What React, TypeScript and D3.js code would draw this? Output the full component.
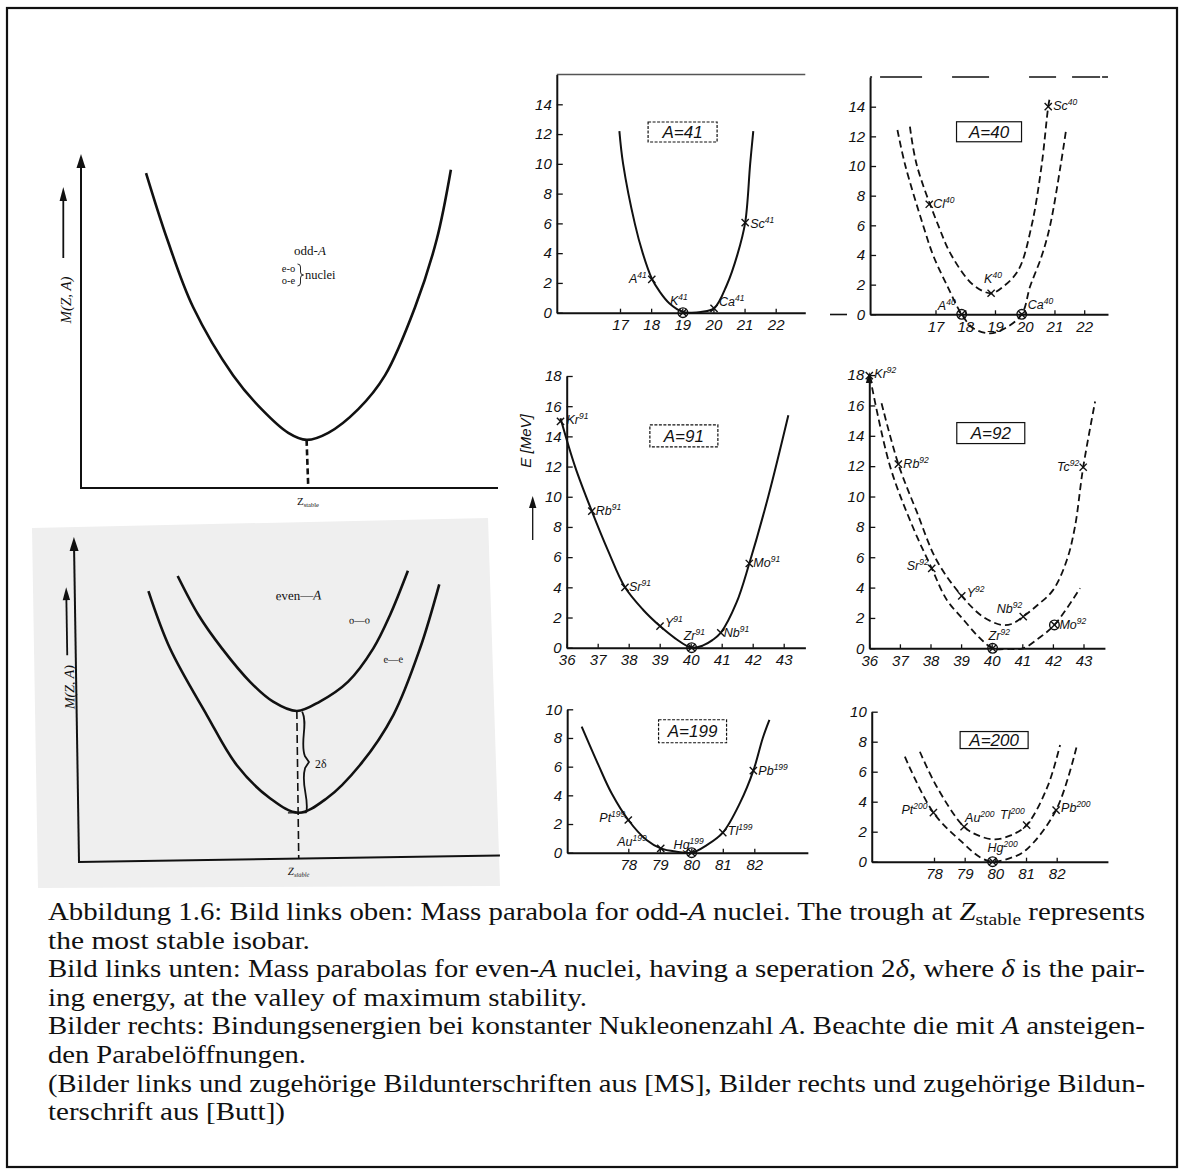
import { useEffect, useRef } from "react";
import * as d3 from "d3";

type Pt = [number, number];
type Nuclide = { el: string; a: number; z: number; e: number; stable?: boolean };

// ---------- left, top: odd-A mass parabola (schematic units 0..10) ----------
const oddACurve: Pt[] = [
  [1.56, 9.43], [2.07, 7.44], [2.69, 5.41], [3.65, 3.37], [4.33, 2.36], [4.97, 1.65],
  [5.41, 1.44], [5.93, 1.65], [6.65, 2.36], [7.29, 3.37], [8.01, 5.41], [8.53, 7.44], [8.87, 9.53],
];
const oddAStable: Pt[] = [[5.41, 1.44], [5.45, 0]];

// ---------- left, bottom: even-A parabolas ----------
const evenOOCurve: Pt[] = [
  [2.45, 8.75], [2.93, 7.54], [3.47, 6.51], [4.13, 5.46], [4.67, 4.84], [5.23, 4.54],
  [5.78, 4.82], [6.46, 5.42], [7.07, 6.43], [7.48, 7.45], [7.92, 8.8],
];
const evenEECurve: Pt[] = [
  [1.75, 8.3], [2.24, 6.53], [3.09, 4.46], [3.78, 2.91], [4.56, 1.87], [5.23, 1.41],
  [5.91, 1.84], [6.71, 2.85], [7.52, 4.37], [8.18, 6.41], [8.66, 8.37],
];
const evenStable: Pt[] = [[5.23, 4.54], [5.22, 0]];
const pairingGap: Pt[] = [[5.38, 4.52], [5.38, 1.41]];
const eeMinTick: Pt[] = [[4.98, 1.41], [5.42, 1.41]];

// ---------- right panels: E [MeV] vs Z ----------
const a41Curve: Pt[] = [
  [16.98, 12.2], [17.1, 10.0], [17.48, 5.95], [17.73, 4.0], [18.02, 2.3], [18.28, 1.4],
  [18.59, 0.62], [19.02, 0.05], [19.3, 0], [19.6, 0.05], [20.02, 0.29], [20.43, 1.86],
  [20.77, 3.9], [21.02, 6.05], [21.18, 10.0], [21.28, 12.2],
];
const a41Nuclides: Nuclide[] = [
  { el: "A", a: 41, z: 18.02, e: 2.24 },
  { el: "K", a: 41, z: 19.02, e: 0, stable: true },
  { el: "Ca", a: 41, z: 20.02, e: 0.29 },
  { el: "Sc", a: 41, z: 21.02, e: 6.05 },
];

const a40OddOdd: Pt[] = [
  [16.14, 12.65], [16.37, 10.07], [17.1, 5.96], [17.55, 3.93], [18.27, 1.98], [18.87, 1.42],
  [19.28, 1.87], [19.79, 2.99], [20.23, 5.96], [20.57, 10.07], [20.79, 14.0], [20.85, 14.67],
];
const a40EvenEven: Pt[] = [
  [15.72, 12.43], [15.98, 10.07], [16.59, 5.96], [16.93, 3.93], [17.38, 1.98], [17.88, 0],
  [18.27, -0.94], [18.83, -1.28], [19.34, -0.94], [19.9, 0], [20.18, 1.87], [20.57, 3.93],
  [20.85, 5.96], [21.21, 10.07], [21.39, 12.43],
];
const a40Nuclides: Nuclide[] = [
  { el: "Cl", a: 40, z: 16.79, e: 7.42 },
  { el: "K", a: 40, z: 18.87, e: 1.42 },
  { el: "Sc", a: 40, z: 20.79, e: 14.0 },
  { el: "A", a: 40, z: 17.88, e: 0, stable: true },
  { el: "Ca", a: 40, z: 19.9, e: 0, stable: true },
];

const a91Curve: Pt[] = [
  [35.8, 15.2], [36.27, 12.0], [36.81, 9.05], [37.34, 6.4], [37.88, 4.0], [38.47, 2.5],
  [39.01, 1.43], [39.5, 0.62], [40.03, 0], [40.4, 0.15], [40.7, 0.5], [40.97, 0.99],
  [41.48, 3.0], [41.89, 5.58], [42.5, 10.0], [43.15, 15.4],
];
const a91Nuclides: Nuclide[] = [
  { el: "Kr", a: 91, z: 35.8, e: 15.0 },
  { el: "Rb", a: 91, z: 36.81, e: 9.05 },
  { el: "Sr", a: 91, z: 37.88, e: 4.0 },
  { el: "Y", a: 91, z: 39.01, e: 1.43 },
  { el: "Zr", a: 91, z: 40.03, e: 0, stable: true },
  { el: "Nb", a: 91, z: 40.97, e: 0.99 },
  { el: "Mo", a: 91, z: 41.89, e: 5.58 },
];

const a92OddOdd: Pt[] = [
  [36.4, 16.15], [36.95, 12.13], [37.55, 9.0], [38.2, 5.8], [39.02, 3.45], [39.7, 2.1],
  [40.3, 1.55], [40.65, 1.6], [41.03, 2.09], [41.5, 2.85], [42.01, 3.85], [42.45, 5.78],
  [42.72, 8.0], [42.99, 11.93], [43.38, 16.26],
];
const a92EvenEven: Pt[] = [
  [36.02, 17.9], [36.68, 11.98], [37.44, 7.91], [38.04, 5.27], [38.53, 3.2], [39.07, 1.9],
  [39.5, 0.9], [39.73, 0.45], [40.03, 0], [40.6, -0.04], [41.03, 0], [41.58, 0.73],
  [42.05, 1.54], [42.89, 3.96],
];
const a92Nuclides: Nuclide[] = [
  { el: "Kr", a: 92, z: 36.0, e: 17.96 },
  { el: "Rb", a: 92, z: 36.95, e: 12.13 },
  { el: "Sr", a: 92, z: 38.04, e: 5.27 },
  { el: "Y", a: 92, z: 39.02, e: 3.45 },
  { el: "Zr", a: 92, z: 40.03, e: 0, stable: true },
  { el: "Nb", a: 92, z: 41.03, e: 2.09 },
  { el: "Mo", a: 92, z: 42.05, e: 1.54, stable: true },
  { el: "Tc", a: 92, z: 42.99, e: 11.93 },
];

const a199Curve: Pt[] = [
  [76.52, 8.79], [77.05, 6.12], [77.47, 4.14], [78.0, 2.28], [78.58, 0.88], [79.03, 0.3],
  [79.54, 0.07], [80.01, 0], [80.49, 0.53], [81.0, 1.4], [81.55, 3.49], [81.97, 5.72],
  [82.27, 8.0], [82.48, 9.26],
];
const a199Nuclides: Nuclide[] = [
  { el: "Pt", a: 199, z: 78.0, e: 2.28 },
  { el: "Au", a: 199, z: 79.03, e: 0.3 },
  { el: "Hg", a: 199, z: 80.01, e: 0, stable: true },
  { el: "Tl", a: 199, z: 81.0, e: 1.4 },
  { el: "Pb", a: 199, z: 81.97, e: 5.72 },
];

const a200OddOdd: Pt[] = [
  [77.54, 7.33], [78.09, 5.0], [78.98, 2.33], [79.5, 1.7], [79.99, 1.49], [80.5, 1.75],
  [81.02, 2.44], [81.7, 5.0], [82.11, 7.78],
];
const a200EvenEven: Pt[] = [
  [77.05, 7.0], [77.98, 3.27], [78.96, 1.22], [79.5, 0.3], [79.91, 0], [80.5, 0.25],
  [81.0, 0.78], [81.98, 3.44], [82.65, 7.67],
];
const a200Nuclides: Nuclide[] = [
  { el: "Pt", a: 200, z: 77.98, e: 3.27 },
  { el: "Au", a: 200, z: 78.98, e: 2.33 },
  { el: "Hg", a: 200, z: 79.91, e: 0, stable: true },
  { el: "Tl", a: 200, z: 81.02, e: 2.44 },
  { el: "Pb", a: 200, z: 81.98, e: 3.44 },
];

const eTicks14 = [0, 2, 4, 6, 8, 10, 12, 14];
const eTicks18 = [0, 2, 4, 6, 8, 10, 12, 14, 16, 18];
const eTicks10 = [0, 2, 4, 6, 8, 10];
const zTicks40 = [17, 18, 19, 20, 21, 22];
const zTicks90 = [36, 37, 38, 39, 40, 41, 42, 43];
const zTicks200 = [78, 79, 80, 81, 82];

// label placement next to each marker: [dx, dy, anchor]
const labelPlace: Record<string, [number, number, string]> = {
  A41: [-5, 4, "end"], K41: [-13, -8, "start"], Ca41: [5, -2, "start"], Sc41: [5, 5, "start"],
  Cl40: [4, 4, "start"], K40: [-7, -10, "start"], Sc40: [5, 3, "start"], A40: [-6, -4, "end"], Ca40: [6, -5, "start"],
  Kr91: [6, 3, "start"], Rb91: [4, 4, "start"], Sr91: [4, 4, "start"], Y91: [5, 1, "start"],
  Zr91: [-8, -8, "start"], Nb91: [3, 4, "start"], Mo91: [4, 4, "start"],
  Kr92: [5, 2, "start"], Rb92: [5, 4, "start"], Sr92: [-3, 2, "end"], Y92: [5, 1, "start"],
  Zr92: [-4, -8, "start"], Nb92: [-1, -4, "end"], Mo92: [5, 4, "start"], Tc92: [-4, 4, "end"],
  Pt199: [-3, 2, "end"], Au199: [-14, -2, "end"], Hg199: [-18, -4, "start"], Tl199: [5, 2, "start"], Pb199: [5, 4, "start"],
  Pt200: [-6, 1, "end"], Au200: [1, -5, "start"], Hg200: [-5, -10, "start"], Tl200: [-2, -6, "end"], Pb200: [5, 2, "start"],
};

type Seg = { t: string; i?: boolean; sub?: boolean };
const captionLines: Seg[][] = [
  [{ t: "Abbildung 1.6: Bild links oben: Mass parabola for odd-" }, { t: "A", i: true }, { t: " nuclei. The trough at " }, { t: "Z", i: true }, { t: "stable", sub: true }, { t: " represents" }],
  [{ t: "the most stable isobar." }],
  [{ t: "Bild links unten: Mass parabolas for even-" }, { t: "A", i: true }, { t: " nuclei, having a seperation 2" }, { t: "δ", i: true }, { t: ", where " }, { t: "δ", i: true }, { t: " is the pair-" }],
  [{ t: "ing energy, at the valley of maximum stability." }],
  [{ t: "Bilder rechts: Bindungsenergien bei konstanter Nukleonenzahl " }, { t: "A", i: true }, { t: ". Beachte die mit " }, { t: "A", i: true }, { t: " ansteigen-" }],
  [{ t: "den Parabelöffnungen." }],
  [{ t: "(Bilder links und zugehörige Bildunterschriften aus [MS], Bilder rechts und zugehörige Bildun-" }],
  [{ t: "terschrift aus [Butt])" }],
];
const captionEnds = [1145, 310, 1145, 587, 1145, 306, 1145, 285];

const SANS = "'Liberation Sans', Arial, sans-serif";
const SERIF = "'Liberation Serif', 'Times New Roman', serif";
const INK = "#111";

type Panel = {
  title: string;
  xRef: [number, number]; xPix: [number, number]; xExt: [number, number];
  yRef: [number, number]; yPix: [number, number]; yExt: [number, number];
  xTicks: number[]; yTicks: number[];
  curves: { pts: Pt[]; dashed: boolean }[];
  nuclides: Nuclide[];
  box: { cx: number; cy: number; w: number; h: number; dashed: boolean };
  top?: "solid" | "dashed";
  arrow?: boolean;
  yLabel?: boolean;
};

const panels: Panel[] = [
  {
    title: "A=41", xRef: [17, 22], xPix: [620, 775.7], xExt: [14.97, 22.95],
    yRef: [0, 14], yPix: [312.7, 104.3], yExt: [0, 16], xTicks: zTicks40, yTicks: eTicks14,
    curves: [{ pts: a41Curve, dashed: false }], nuclides: a41Nuclides,
    box: { cx: 19.01, cy: 12.14, w: 69, h: 20, dashed: true }, top: "solid",
  },
  {
    title: "A=40", xRef: [17, 22], xPix: [935.5, 1084.2], xExt: [14.8, 22.8],
    yRef: [0, 14], yPix: [314.3, 106.7], yExt: [0, 16], xTicks: zTicks40, yTicks: eTicks14,
    curves: [{ pts: a40OddOdd, dashed: true }, { pts: a40EvenEven, dashed: true }], nuclides: a40Nuclides,
    box: { cx: 18.8, cy: 12.31, w: 65, h: 20, dashed: false }, top: "dashed",
  },
  {
    title: "A=91", xRef: [36, 43], xPix: [566.7, 783.7], xExt: [36, 43.7],
    yRef: [0, 18], yPix: [647.7, 376], yExt: [0, 18], xTicks: zTicks90, yTicks: eTicks18,
    curves: [{ pts: a91Curve, dashed: false }], nuclides: a91Nuclides,
    box: { cx: 39.78, cy: 14.03, w: 68, h: 22, dashed: true }, yLabel: true,
  },
  {
    title: "A=92", xRef: [36, 43], xPix: [869.3, 1083.5], xExt: [36, 43.7],
    yRef: [0, 18], yPix: [648.3, 375.1], yExt: [0, 18], xTicks: zTicks90, yTicks: eTicks18,
    curves: [{ pts: a92OddOdd, dashed: true }, { pts: a92EvenEven, dashed: true }], nuclides: a92Nuclides,
    box: { cx: 39.97, cy: 14.18, w: 68, h: 21, dashed: false }, arrow: true,
  },
  {
    title: "A=199", xRef: [78, 82], xPix: [628.3, 754.3], xExt: [76.06, 83.7],
    yRef: [0, 10], yPix: [852.7, 709.3], yExt: [0, 10], xTicks: zTicks200, yTicks: eTicks10,
    curves: [{ pts: a199Curve, dashed: false }], nuclides: a199Nuclides,
    box: { cx: 80.04, cy: 8.47, w: 68, h: 23, dashed: true },
  },
  {
    title: "A=200", xRef: [78, 82], xPix: [934, 1056.7], xExt: [75.97, 83.67],
    yRef: [0, 10], yPix: [861.7, 711.7], yExt: [0, 10], xTicks: zTicks200, yTicks: eTicks10,
    curves: [{ pts: a200OddOdd, dashed: true }, { pts: a200EvenEven, dashed: true }], nuclides: a200Nuclides,
    box: { cx: 79.96, cy: 8.11, w: 68, h: 17, dashed: false },
  },
];

function styleAxis(sel: d3.Selection<SVGGElement, unknown, null, undefined>) {
  sel.attr("font-family", SANS).attr("font-size", 15).attr("font-style", "italic");
  sel.select(".domain").attr("stroke", INK).attr("stroke-width", 2);
  sel.selectAll(".tick line").attr("stroke", INK).attr("stroke-width", 1.3);
  sel.selectAll(".tick text").attr("fill", INK);
}

function Mark({ cx, cy, stable }: { cx: number; cy: number; stable?: boolean }) {
  const s = 3.6;
  return (
    <g stroke={INK} strokeWidth={1.4} fill="none">
      <line x1={cx - s} y1={cy - s} x2={cx + s} y2={cy + s} />
      <line x1={cx - s} y1={cy + s} x2={cx + s} y2={cy - s} />
      {stable && <circle cx={cx} cy={cy} r={4.8} />}
    </g>
  );
}

function RightPanel({ p }: { p: Panel }) {
  const gx = useRef<SVGGElement>(null);
  const gy = useRef<SVGGElement>(null);
  const bx = d3.scaleLinear().domain(p.xRef).range(p.xPix);
  const by = d3.scaleLinear().domain(p.yRef).range(p.yPix);
  const x = d3.scaleLinear().domain(p.xExt).range(p.xExt.map((v) => bx(v)));
  const y = d3.scaleLinear().domain(p.yExt).range(p.yExt.map((v) => by(v)));

  useEffect(() => {
    const ax = d3.axisBottom(x).tickValues(p.xTicks).tickSizeInner(-4).tickSizeOuter(0).tickPadding(7).tickFormat(d3.format("d"));
    styleAxis(d3.select(gx.current!).call(ax));
    const ay = d3.axisLeft(y).tickValues(p.yTicks).tickSizeInner(-6).tickSizeOuter(0).tickPadding(5).tickFormat(d3.format("d"));
    styleAxis(d3.select(gy.current!).call(ay));
  }, []);

  const line = d3
    .line<Pt>()
    .x((d) => x(d[0]))
    .y((d) => y(d[1]))
    .curve(d3.curveCatmullRom.alpha(0.5));

  const x0 = x(p.xExt[0]);
  const yTop = y(p.yExt[1]);
  const bcx = x(p.box.cx);
  const bcy = y(p.box.cy);

  return (
    <g>
      {p.top && (
        <line
          x1={x0} x2={x(p.xExt[1])} y1={yTop} y2={yTop}
          stroke={p.top === "solid" ? "#555" : INK}
          strokeWidth={1.6}
          strokeDasharray={p.top === "dashed" ? "2 8 42 30 37 40 27 16 28" : undefined}
        />
      )}
      <g ref={gx} transform={`translate(0,${y(0)})`} />
      <g ref={gy} transform={`translate(${x0},0)`} />
      {p.arrow && (
        <path d={`M${x0},${yTop - 3} L${x0 - 3.5},${yTop + 8} L${x0 + 3.5},${yTop + 8} Z`} fill={INK} />
      )}
      {p.curves.map((c, i) => (
        <path
          key={i}
          d={line(c.pts) ?? ""}
          fill="none"
          stroke={INK}
          strokeWidth={c.dashed ? 1.8 : 2}
          strokeDasharray={c.dashed ? "7 4" : undefined}
        />
      ))}
      {p.nuclides.map((n) => {
        const cx = x(n.z);
        const cy = y(n.e);
        const [dx, dy, anchor] = labelPlace[`${n.el}${n.a}`] ?? [5, 3, "start"];
        return (
          <g key={`${n.el}${n.a}`}>
            <Mark cx={cx} cy={cy} stable={n.stable} />
            <text
              x={cx + dx} y={cy + dy} textAnchor={anchor}
              style={{ fontFamily: SANS }} fontStyle="italic" fontSize={12.5} fill={INK}
            >
              {n.el}
              <tspan fontSize={8.5} dy={-5}>{n.a}</tspan>
            </text>
          </g>
        );
      })}
      <rect
        x={bcx - p.box.w / 2} y={bcy - p.box.h / 2} width={p.box.w} height={p.box.h}
        fill="none" stroke={INK} strokeWidth={1.2}
        strokeDasharray={p.box.dashed ? "3 1.5" : undefined}
      />
      <text x={bcx} y={bcy + 6} textAnchor="middle" style={{ fontFamily: SANS }} fontStyle="italic" fontSize={17} fill={INK}>
        {p.title}
      </text>
      {p.yLabel && (
        <g>
          <text
            transform={`translate(531,441) rotate(-90)`}
            textAnchor="middle" style={{ fontFamily: SANS }} fontStyle="italic" fontSize={15} fill={INK}
          >
            E [MeV]
          </text>
          <line x1={532.7} x2={532.7} y1={540} y2={505} stroke={INK} strokeWidth={1.3} />
          <path d="M532.7,496 L529,508 L536.4,508 Z" fill={INK} />
        </g>
      )}
    </g>
  );
}

function OddAPanel() {
  const x = d3.scaleLinear().domain([0, 10]).range([81, 498]);
  const y = d3.scaleLinear().domain([0, 10]).range([488, 154]);
  const line = d3.line<Pt>().x((d) => x(d[0])).y((d) => y(d[1])).curve(d3.curveCatmullRom.alpha(0.5));
  const lin = d3.line<Pt>().x((d) => x(d[0])).y((d) => y(d[1]));
  const ax = x(0);
  return (
    <g>
      <line x1={ax} x2={ax} y1={y(0)} y2={y(10) + 10} stroke={INK} strokeWidth={2} />
      <path d={`M${ax},${y(10)} L${ax - 4.5},${y(10) + 14} L${ax + 4.5},${y(10) + 14} Z`} fill={INK} />
      <line x1={ax - 1} x2={x(10)} y1={y(0)} y2={y(0)} stroke={INK} strokeWidth={2} />
      <path d={line(oddACurve) ?? ""} fill="none" stroke={INK} strokeWidth={2.6} />
      <path d={lin(oddAStable) ?? ""} fill="none" stroke={INK} strokeWidth={2.6} strokeDasharray="6 3.5" />
      <line x1={63.3} x2={63.3} y1={258} y2={196} stroke={INK} strokeWidth={1.8} />
      <path d="M63.3,187 L59.6,201 L67,201 Z" fill={INK} />
      <text transform="translate(70.5,300) rotate(-90)" textAnchor="middle" style={{ fontFamily: SERIF }} fontStyle="italic" fontSize={15} fill={INK}>
        M(Z, A)
      </text>
      <text x={310} y={255} textAnchor="middle" style={{ fontFamily: SERIF }} fontSize={13} fill={INK}>
        odd-<tspan fontStyle="italic">A</tspan>
      </text>
      <text x={288.5} y={272} textAnchor="middle" style={{ fontFamily: SERIF }} fontSize={10.5} fill={INK}>e-o</text>
      <text x={288.5} y={284} textAnchor="middle" style={{ fontFamily: SERIF }} fontSize={10.5} fill={INK}>o-e</text>
      <path d="M297.5,264 q3,0 3,3 v5 q0,3 3,3 q-3,0 -3,3 v5 q0,3 -3,3" fill="none" stroke={INK} strokeWidth={0.9} />
      <text x={305} y={279} style={{ fontFamily: SERIF }} fontSize={12.5} fill={INK}>nuclei</text>
      <text x={308} y={505} textAnchor="middle" style={{ fontFamily: SERIF }} fontSize={11} fill={INK}>
        Z<tspan fontSize={6.5} dy={2}>stable</tspan>
      </text>
    </g>
  );
}

function EvenAPanel() {
  const x = d3.scaleLinear().domain([0, 10]).range([79, 500]);
  const y = d3.scaleLinear().domain([0, 10]).range([862, 537]);
  const line = d3.line<Pt>().x((d) => x(d[0])).y((d) => y(d[1])).curve(d3.curveCatmullRom.alpha(0.5));
  const lin = d3.line<Pt>().x((d) => x(d[0])).y((d) => y(d[1]));
  const ax = x(0);
  const gx = x(pairingGap[0][0]);
  const g0 = y(pairingGap[0][1]);
  const g1 = y(pairingGap[1][1]);
  const h = g1 - g0;
  const brace =
    `M${gx - 1},${g0} C${gx + 5},${g0 + h * 0.12} ${gx - 4},${g0 + h * 0.3} ${gx + 1},${g0 + h * 0.44} ` +
    `L${gx + 5},${g0 + h * 0.5} L${gx + 1},${g0 + h * 0.56} ` +
    `C${gx - 4},${g0 + h * 0.72} ${gx + 5},${g0 + h * 0.86} ${gx + 1.5},${g1}`;
  return (
    <g transform="rotate(-0.9 79 862)">
      <line x1={ax} x2={ax} y1={y(0)} y2={y(10) + 10} stroke={INK} strokeWidth={2} />
      <path d={`M${ax},${y(10)} L${ax - 4.5},${y(10) + 14} L${ax + 4.5},${y(10) + 14} Z`} fill={INK} />
      <line x1={ax - 1} x2={x(10)} y1={y(0)} y2={y(0)} stroke={INK} strokeWidth={2} />
      <path d={line(evenOOCurve) ?? ""} fill="none" stroke={INK} strokeWidth={2.6} />
      <path d={line(evenEECurve) ?? ""} fill="none" stroke={INK} strokeWidth={2.6} />
      <path d={lin(evenStable) ?? ""} fill="none" stroke={INK} strokeWidth={1.6} strokeDasharray="8 4" />
      <path d={lin(eeMinTick) ?? ""} fill="none" stroke={INK} strokeWidth={1.2} />
      <path d={brace} fill="none" stroke={INK} strokeWidth={1.8} />
      <text x={gx + 11} y={y(2.78)} style={{ fontFamily: SERIF }} fontSize={12} fill={INK}>2δ</text>
      <line x1={70.5} x2={70.5} y1={655} y2={596} stroke={INK} strokeWidth={1.8} />
      <path d="M70.5,587 L66.8,600 L74.2,600 Z" fill={INK} />
      <text transform="translate(77,687) rotate(-90)" textAnchor="middle" style={{ fontFamily: SERIF }} fontStyle="italic" fontSize={14} fill={INK}>
        M(Z, A)
      </text>
      <text x={x(5.31)} y={y(7.96)} textAnchor="middle" style={{ fontFamily: SERIF }} fontSize={13} fill={INK}>
        even—<tspan fontStyle="italic">A</tspan>
      </text>
      <text x={x(6.75)} y={y(7.2)} textAnchor="middle" style={{ fontFamily: SERIF }} fontSize={10.5} fill={INK}>o—o</text>
      <text x={x(7.54)} y={y(5.98)} textAnchor="middle" style={{ fontFamily: SERIF }} fontSize={10.5} fill={INK}>e—e</text>
      <text x={x(5.21)} y={y(-0.5)} textAnchor="middle" style={{ fontFamily: SERIF }} fontStyle="italic" fontSize={11} fill={INK}>
        Z<tspan fontSize={6.5} dy={2} fontStyle="italic">stable</tspan>
      </text>
    </g>
  );
}

function Caption() {
  return (
    <g fill={INK}>
      {captionLines.map((segs, i) => (
        <text
          key={i} x={48} y={920 + i * 28.6}
          style={{ fontFamily: SERIF, fontSize: 25 }}
          textLength={captionEnds[i] - 48} lengthAdjust="spacingAndGlyphs"
        >
          {segs.map((s, j) => {
            const prevSub = j > 0 && segs[j - 1].sub;
            return (
              <tspan
                key={j}
                fontStyle={s.i ? "italic" : undefined}
                style={s.sub ? { fontSize: 17 } : undefined}
                dy={s.sub ? 5 : prevSub ? -5 : undefined}
              >
                {s.t}
              </tspan>
            );
          })}
        </text>
      ))}
    </g>
  );
}

export default function App() {
  return (
    <svg
      width={1185} height={1171} viewBox="0 0 1185 1171"
      style={{ position: "absolute", left: 0, top: 0, background: "#fff" }}
    >
      <rect x={0} y={0} width={1185} height={1171} fill="#fff" />
      <path d="M32,528 L488,518 L500,886 L38,888 Z" fill="#efefef" />
      <OddAPanel />
      <EvenAPanel />
      {panels.map((p) => (
        <RightPanel key={p.title} p={p} />
      ))}
      <line x1={830} x2={847} y1={314.5} y2={314.5} stroke={INK} strokeWidth={1.6} />
      <Caption />
      <rect x={7} y={8} width={1170} height={1159} fill="none" stroke={INK} strokeWidth={2.2} />
    </svg>
  );
}
